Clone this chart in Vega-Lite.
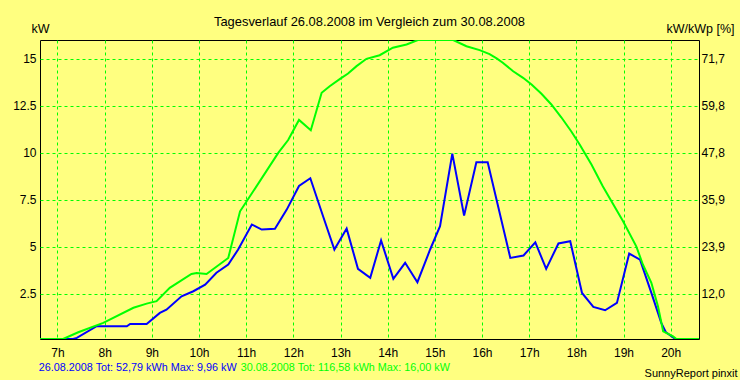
{
  "$schema": "https://vega.github.io/schema/vega-lite/v6.json",
  "width": 659,
  "height": 299,
  "autosize": {"type": "none"},
  "padding": {"left": 40, "top": 40, "right": 41, "bottom": 41},
  "background": "#ffff80",
  "config": {
    "font": "Liberation Sans",
    "view": {"stroke": "#000000", "strokeWidth": 1, "fill": "#ffff80"},
    "axis": {"labelFont": "Liberation Sans", "titleFont": "Liberation Sans", "labelColor": "#000000", "titleColor": "#000000", "labelFontSize": 12, "titleFontSize": 12, "titleFontWeight": "normal", "domain": false, "ticks": false}
  },
  "title": {"text": "Tagesverlauf 26.08.2008 im Vergleich zum 30.08.2008", "fontSize": 12.9, "font": "Liberation Sans", "fontWeight": "normal", "color": "#000000", "anchor": "middle", "frame": "group", "offset": -6.5},
  "datasets": {
    "lines": [
      {"d": "26.08.2008", "h": 6.63, "kw": 0},
      {"d": "26.08.2008", "h": 7.33, "kw": 0},
      {"d": "26.08.2008", "h": 7.41, "kw": 0.16},
      {"d": "26.08.2008", "h": 7.83, "kw": 0.78},
      {"d": "26.08.2008", "h": 8.47, "kw": 0.78},
      {"d": "26.08.2008", "h": 8.54, "kw": 0.9},
      {"d": "26.08.2008", "h": 8.89, "kw": 0.9},
      {"d": "26.08.2008", "h": 9.17, "kw": 1.49},
      {"d": "26.08.2008", "h": 9.31, "kw": 1.66},
      {"d": "26.08.2008", "h": 9.63, "kw": 2.37},
      {"d": "26.08.2008", "h": 9.88, "kw": 2.64},
      {"d": "26.08.2008", "h": 10.13, "kw": 2.99},
      {"d": "26.08.2008", "h": 10.37, "kw": 3.62},
      {"d": "26.08.2008", "h": 10.62, "kw": 4.06},
      {"d": "26.08.2008", "h": 10.83, "kw": 4.86},
      {"d": "26.08.2008", "h": 11.12, "kw": 6.19},
      {"d": "26.08.2008", "h": 11.33, "kw": 5.92},
      {"d": "26.08.2008", "h": 11.61, "kw": 5.96},
      {"d": "26.08.2008", "h": 11.86, "kw": 6.98},
      {"d": "26.08.2008", "h": 12.12, "kw": 8.24},
      {"d": "26.08.2008", "h": 12.36, "kw": 8.65},
      {"d": "26.08.2008", "h": 12.63, "kw": 6.63},
      {"d": "26.08.2008", "h": 12.87, "kw": 4.86},
      {"d": "26.08.2008", "h": 13.13, "kw": 5.97},
      {"d": "26.08.2008", "h": 13.37, "kw": 3.83},
      {"d": "26.08.2008", "h": 13.63, "kw": 3.35},
      {"d": "26.08.2008", "h": 13.86, "kw": 5.34},
      {"d": "26.08.2008", "h": 14.12, "kw": 3.3},
      {"d": "26.08.2008", "h": 14.37, "kw": 4.15},
      {"d": "26.08.2008", "h": 14.63, "kw": 3.12},
      {"d": "26.08.2008", "h": 14.9, "kw": 4.86},
      {"d": "26.08.2008", "h": 15.11, "kw": 6.1},
      {"d": "26.08.2008", "h": 15.37, "kw": 9.96},
      {"d": "26.08.2008", "h": 15.62, "kw": 6.66},
      {"d": "26.08.2008", "h": 15.88, "kw": 9.5},
      {"d": "26.08.2008", "h": 16.12, "kw": 9.5},
      {"d": "26.08.2008", "h": 16.6, "kw": 4.41},
      {"d": "26.08.2008", "h": 16.88, "kw": 4.54},
      {"d": "26.08.2008", "h": 17.13, "kw": 5.24},
      {"d": "26.08.2008", "h": 17.36, "kw": 3.83},
      {"d": "26.08.2008", "h": 17.62, "kw": 5.18},
      {"d": "26.08.2008", "h": 17.87, "kw": 5.3},
      {"d": "26.08.2008", "h": 18.12, "kw": 2.55},
      {"d": "26.08.2008", "h": 18.36, "kw": 1.81},
      {"d": "26.08.2008", "h": 18.61, "kw": 1.63},
      {"d": "26.08.2008", "h": 18.86, "kw": 2.02},
      {"d": "26.08.2008", "h": 19.12, "kw": 4.64},
      {"d": "26.08.2008", "h": 19.35, "kw": 4.32},
      {"d": "26.08.2008", "h": 19.59, "kw": 2.55},
      {"d": "26.08.2008", "h": 19.8, "kw": 0.96},
      {"d": "26.08.2008", "h": 19.9, "kw": 0.45},
      {"d": "26.08.2008", "h": 20.1, "kw": 0},
      {"d": "26.08.2008", "h": 20.6, "kw": 0},
      {"d": "30.08.2008", "h": 6.63, "kw": 0},
      {"d": "30.08.2008", "h": 7.12, "kw": 0},
      {"d": "30.08.2008", "h": 7.44, "kw": 0.46},
      {"d": "30.08.2008", "h": 7.97, "kw": 0.96},
      {"d": "30.08.2008", "h": 8.61, "kw": 1.76},
      {"d": "30.08.2008", "h": 8.89, "kw": 1.98},
      {"d": "30.08.2008", "h": 9.1, "kw": 2.11},
      {"d": "30.08.2008", "h": 9.38, "kw": 2.82},
      {"d": "30.08.2008", "h": 9.84, "kw": 3.56},
      {"d": "30.08.2008", "h": 9.95, "kw": 3.61},
      {"d": "30.08.2008", "h": 10.16, "kw": 3.56},
      {"d": "30.08.2008", "h": 10.62, "kw": 4.41},
      {"d": "30.08.2008", "h": 10.87, "kw": 6.89},
      {"d": "30.08.2008", "h": 11.08, "kw": 7.69},
      {"d": "30.08.2008", "h": 11.68, "kw": 10.0},
      {"d": "30.08.2008", "h": 11.89, "kw": 10.68},
      {"d": "30.08.2008", "h": 12.12, "kw": 11.75},
      {"d": "30.08.2008", "h": 12.37, "kw": 11.2},
      {"d": "30.08.2008", "h": 12.6, "kw": 13.19},
      {"d": "30.08.2008", "h": 12.77, "kw": 13.54},
      {"d": "30.08.2008", "h": 12.99, "kw": 13.93},
      {"d": "30.08.2008", "h": 13.16, "kw": 14.22},
      {"d": "30.08.2008", "h": 13.34, "kw": 14.61},
      {"d": "30.08.2008", "h": 13.55, "kw": 15.0},
      {"d": "30.08.2008", "h": 13.83, "kw": 15.19},
      {"d": "30.08.2008", "h": 14.11, "kw": 15.59},
      {"d": "30.08.2008", "h": 14.4, "kw": 15.76},
      {"d": "30.08.2008", "h": 14.64, "kw": 16.0},
      {"d": "30.08.2008", "h": 15.39, "kw": 16.0},
      {"d": "30.08.2008", "h": 15.67, "kw": 15.67},
      {"d": "30.08.2008", "h": 15.95, "kw": 15.46},
      {"d": "30.08.2008", "h": 16.16, "kw": 15.25},
      {"d": "30.08.2008", "h": 16.31, "kw": 15.02},
      {"d": "30.08.2008", "h": 16.44, "kw": 14.79},
      {"d": "30.08.2008", "h": 16.66, "kw": 14.34},
      {"d": "30.08.2008", "h": 16.87, "kw": 13.99},
      {"d": "30.08.2008", "h": 17.05, "kw": 13.63},
      {"d": "30.08.2008", "h": 17.26, "kw": 13.14},
      {"d": "30.08.2008", "h": 17.47, "kw": 12.57},
      {"d": "30.08.2008", "h": 17.68, "kw": 11.89},
      {"d": "30.08.2008", "h": 17.89, "kw": 11.15},
      {"d": "30.08.2008", "h": 18.07, "kw": 10.44},
      {"d": "30.08.2008", "h": 18.32, "kw": 9.38},
      {"d": "30.08.2008", "h": 18.56, "kw": 8.22},
      {"d": "30.08.2008", "h": 18.99, "kw": 6.36},
      {"d": "30.08.2008", "h": 19.27, "kw": 5.03},
      {"d": "30.08.2008", "h": 19.41, "kw": 4.06},
      {"d": "30.08.2008", "h": 19.59, "kw": 3.09},
      {"d": "30.08.2008", "h": 19.73, "kw": 1.84},
      {"d": "30.08.2008", "h": 19.84, "kw": 0.51},
      {"d": "30.08.2008", "h": 20.05, "kw": 0.24},
      {"d": "30.08.2008", "h": 20.12, "kw": 0.1},
      {"d": "30.08.2008", "h": 20.15, "kw": 0},
      {"d": "30.08.2008", "h": 20.6, "kw": 0}
    ]
  },
  "data": {"name": "lines"},
  "layer": [
    {
      "mark": {"type": "line", "strokeWidth": 2, "clip": true, "interpolate": "linear"},
      "encoding": {
        "x": {
          "field": "h", "type": "quantitative",
          "scale": {"domain": [6.629, 20.6], "nice": false, "zero": false},
          "axis": {
            "values": [7, 8, 9, 10, 11, 12, 13, 14, 15, 16, 17, 18, 19, 20],
            "labelExpr": "datum.value + 'h'",
            "labelPadding": 8,
            "labelBaseline": "top",
            "grid": true, "gridColor": "#00ff00", "gridDash": [3, 3], "gridWidth": 1, "gridOpacity": 1,
            "title": "SunnyReport pinxit",
            "titleFontSize": 11,
            "titleAnchor": null,
            "titleAlign": "right",
            "titleBaseline": "alphabetic",
            "titleX": 697,
            "titleY": 37
          }
        },
        "y": {
          "field": "kw", "type": "quantitative",
          "scale": {"domain": [0.1, 16], "nice": false, "zero": false, "clamp": true},
          "axis": {
            "values": [2.5, 5, 7.5, 10, 12.5, 15],
            "labelExpr": "'' + datum.value",
            "labelPadding": 4,
            "grid": true, "gridColor": "#00ff00", "gridDash": [3, 3], "gridWidth": 1, "gridOpacity": 1,
            "title": "kW",
            "titleFontSize": 12.5,
            "titleAngle": 0,
            "titleAlign": "center",
            "titleBaseline": "alphabetic",
            "titleAnchor": null,
            "titleX": 0,
            "titleY": -8
          }
        },
        "color": {
          "field": "d", "type": "nominal",
          "scale": {"domain": ["26.08.2008", "30.08.2008"], "range": ["#0000ff", "#00ff00"]},
          "legend": {
            "orient": "none",
            "legendX": 0,
            "legendY": 322,
            "direction": "horizontal",
            "title": null,
            "padding": 0,
            "symbolSize": 0,
            "symbolOpacity": 0,
            "symbolStrokeWidth": 0,
            "labelOffset": -12,
            "columnPadding": 3,
            "labelFont": "Liberation Sans",
            "labelFontSize": 10.8,
            "labelLimit": 400,
            "labelExpr": "datum.label == '26.08.2008' ? '26.08.2008 Tot: 52,79 kWh Max: 9,96 kW' : '30.08.2008 Tot: 116,58 kWh Max: 16,00 kW'",
            "encode": {"labels": {"update": {"fill": {"scale": "color", "field": "value"}}}}
          }
        }
      }
    },
    {
      "mark": {"type": "line", "strokeOpacity": 0},
      "encoding": {
        "x": {"field": "h", "type": "quantitative"},
        "y": {
          "field": "kw", "type": "quantitative",
          "axis": {
            "orient": "right",
            "values": [2.5, 5, 7.5, 10, 12.5, 15],
            "labelExpr": "replace(format(datum.value * 4.7826, '.1f'), '.', ',')",
            "labelPadding": 2,
            "grid": false,
            "title": "kW/kWp [%]",
            "titleFontSize": 12.5,
            "titleAngle": 0,
            "titleAlign": "center",
            "titleBaseline": "alphabetic",
            "titleAnchor": null,
            "titleX": 1,
            "titleY": -8
          }
        },
        "detail": {"field": "d", "type": "nominal"}
      }
    }
  ],
  "resolve": {"scale": {"y": "shared"}, "axis": {"y": "independent"}}
}
